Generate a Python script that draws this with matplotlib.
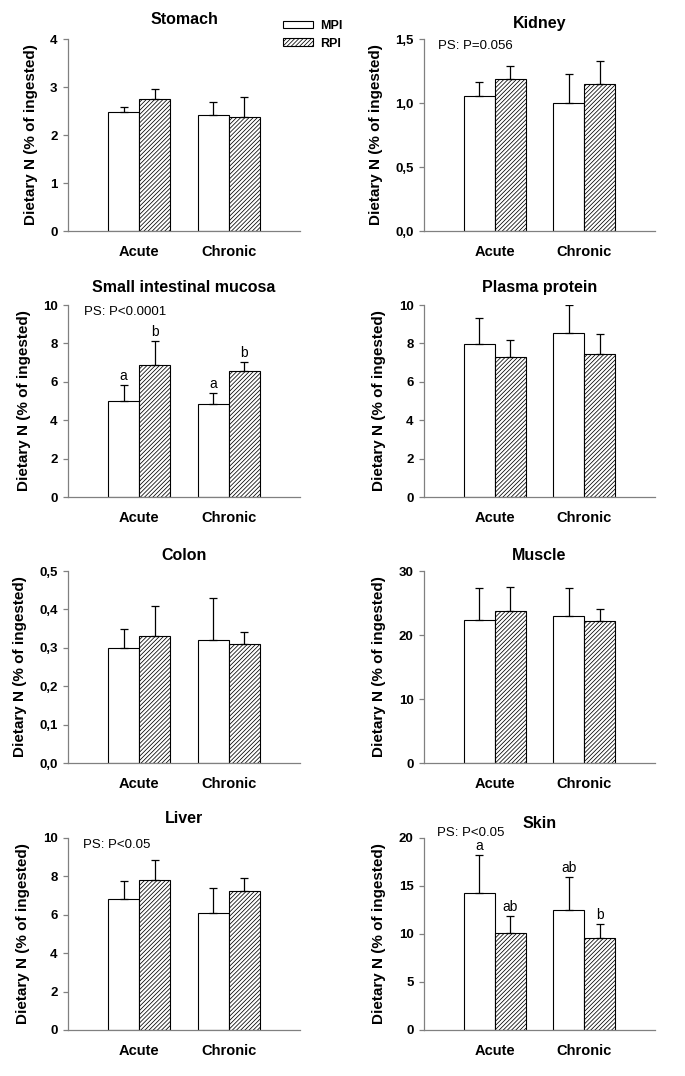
import matplotlib
matplotlib.use("Agg")
import matplotlib.pyplot as plt
from matplotlib.patches import Patch

plt.rcParams['font.family'] = ['Liberation Sans', 'DejaVu Sans']
plt.rcParams['hatch.linewidth'] = 0.55

groups = ["Acute", "Chronic"]
series = ["MPI", "RPI"]

titles = ["Stomach", "Kidney", "Small intestinal mucosa", "Plasma protein",
          "Colon", "Muscle", "Liver", "Skin"]

# means [MPI, RPI] per group (Acute, Chronic)
stomach_mpi = [2.47, 2.42]; stomach_rpi = [2.74, 2.37]
stomach_mpi_err = [0.11, 0.27]; stomach_rpi_err = [0.22, 0.42]

kidney_mpi = [1.055, 1.00]; kidney_rpi = [1.19, 1.15]
kidney_mpi_err = [0.11, 0.23]; kidney_rpi_err = [0.10, 0.18]

sim_mpi = [5.0, 4.83]; sim_rpi = [6.88, 6.55]
sim_mpi_err = [0.84, 0.57]; sim_rpi_err = [1.22, 0.50]

plasma_mpi = [7.97, 8.54]; plasma_rpi = [7.30, 7.45]
plasma_mpi_err = [1.34, 1.44]; plasma_rpi_err = [0.88, 1.04]

colon_mpi = [0.30, 0.32]; colon_rpi = [0.33, 0.31]
colon_mpi_err = [0.05, 0.11]; colon_rpi_err = [0.08, 0.03]

muscle_mpi = [22.4, 22.9]; muscle_rpi = [23.8, 22.2]
muscle_mpi_err = [4.9, 4.4]; muscle_rpi_err = [3.7, 1.8]

liver_mpi = [6.83, 6.08]; liver_rpi = [7.82, 7.23]
liver_mpi_err = [0.93, 1.32]; liver_rpi_err = [1.04, 0.67]

skin_mpi = [14.3, 12.5]; skin_rpi = [10.14, 9.62]
skin_mpi_err = [3.95, 3.43]; skin_rpi_err = [1.73, 1.45]

# y ticks and labels
stomach_ticks = [0, 1, 2, 3, 4]; stomach_labels = ["0", "1", "2", "3", "4"]
kidney_ticks = [0, 0.5, 1.0, 1.5]; kidney_labels = ["0,0", "0,5", "1,0", "1,5"]
sim_ticks = [0, 2, 4, 6, 8, 10]; sim_labels = ["0", "2", "4", "6", "8", "10"]
plasma_ticks = [0, 2, 4, 6, 8, 10]; plasma_labels = ["0", "2", "4", "6", "8", "10"]
colon_ticks = [0, 0.1, 0.2, 0.3, 0.4, 0.5]; colon_labels = ["0,0", "0,1", "0,2", "0,3", "0,4", "0,5"]
muscle_ticks = [0, 10, 20, 30]; muscle_labels = ["0", "10", "20", "30"]
liver_ticks = [0, 2, 4, 6, 8, 10]; liver_labels = ["0", "2", "4", "6", "8", "10"]
skin_ticks = [0, 5, 10, 15, 20]; skin_labels = ["0", "5", "10", "15", "20"]

# annotations
ps_texts = [None, "PS: P=0.056", "PS: P<0.0001", None, None, None, "PS: P<0.05", "PS: P<0.05"]
sim_letters_mpi = ["a", "a"]; sim_letters_rpi = ["b", "b"]
skin_letters_mpi = ["a", "ab"]; skin_letters_rpi = ["ab", "b"]

panels = [
    (stomach_mpi, stomach_rpi, stomach_mpi_err, stomach_rpi_err, stomach_ticks, stomach_labels, None, None),
    (kidney_mpi, kidney_rpi, kidney_mpi_err, kidney_rpi_err, kidney_ticks, kidney_labels, None, None),
    (sim_mpi, sim_rpi, sim_mpi_err, sim_rpi_err, sim_ticks, sim_labels, sim_letters_mpi, sim_letters_rpi),
    (plasma_mpi, plasma_rpi, plasma_mpi_err, plasma_rpi_err, plasma_ticks, plasma_labels, None, None),
    (colon_mpi, colon_rpi, colon_mpi_err, colon_rpi_err, colon_ticks, colon_labels, None, None),
    (muscle_mpi, muscle_rpi, muscle_mpi_err, muscle_rpi_err, muscle_ticks, muscle_labels, None, None),
    (liver_mpi, liver_rpi, liver_mpi_err, liver_rpi_err, liver_ticks, liver_labels, None, None),
    (skin_mpi, skin_rpi, skin_mpi_err, skin_rpi_err, skin_ticks, skin_labels, skin_letters_mpi, skin_letters_rpi),
]

W, H = 685, 1076
fig = plt.figure(figsize=(W / 100, H / 100), dpi=100)

col_left = [68, 424]
col_width = [232, 231]
row_bottom = [231, 497, 763, 1030]
ax_h = 192
title_off = [1.10, 1.083, 1.093, 1.093, 1.083, 1.083, 1.10, 1.073]
ylabel_x = [-0.159, -0.207, -0.189, -0.194, -0.206, -0.194, -0.193, -0.194]
ps_pos = [None, (0.06, 0.963), (0.069, 0.964), None, None, None, (0.064, 0.963), (0.056, 1.026)]

spine_col = '#808080'
bw = 0.344
xc = [0, 1]
hatch = '////////'

for i, (mpi, rpi, me, re_, ticks, tlabels, lm, lr) in enumerate(panels):
    r, c = divmod(i, 2)
    ax = fig.add_axes([col_left[c] / W, (H - row_bottom[r]) / H, col_width[c] / W, ax_h / H])
    xm = [x - bw / 2 for x in xc]
    xr = [x + bw / 2 for x in xc]
    ax.bar(xm, mpi, width=bw, color='white', edgecolor='black', linewidth=0.8, zorder=2)
    ax.bar(xr, rpi, width=bw, color='white', edgecolor='black', hatch=hatch, linewidth=0.8, zorder=2)
    ax.errorbar(xm, mpi, yerr=[[0, 0], me], fmt='none', ecolor='black', elinewidth=0.9,
                capsize=3, capthick=0.9, zorder=3)
    ax.errorbar(xr, rpi, yerr=[[0, 0], re_], fmt='none', ecolor='black', elinewidth=0.9,
                capsize=3, capthick=0.9, zorder=3)
    ax.set_xlim(-0.79, 1.79)
    ax.set_ylim(ticks[0], ticks[-1])
    ax.set_yticks(ticks)
    ax.set_yticklabels(tlabels, fontsize=9.5, fontweight='bold')
    ax.set_xticks(xc)
    ax.set_xticklabels(groups, fontsize=10.5, fontweight='bold')
    ax.tick_params(axis='x', length=0, pad=10)
    ax.tick_params(axis='y', length=3.5, width=0.9, color=spine_col, pad=4)
    for s in ['top', 'right']:
        ax.spines[s].set_visible(False)
    for s in ['left', 'bottom']:
        ax.spines[s].set_color(spine_col)
        ax.spines[s].set_linewidth(0.9)
    ax.set_ylabel("Dietary N (% of ingested)", fontsize=11, fontweight='bold', va='center')
    ax.yaxis.set_label_coords(ylabel_x[i], 0.5)
    ax.text(0.5, title_off[i], titles[i], transform=ax.transAxes, ha='center', va='center',
            fontsize=11.5, fontweight='bold')
    if ps_texts[i]:
        ax.text(ps_pos[i][0], ps_pos[i][1], ps_texts[i], transform=ax.transAxes,
                ha='left', va='center', fontsize=9.5)
    if lm:
        for x, v, e, t in zip(xm, mpi, me, lm):
            ax.annotate(t, (x, v + e), xytext=(0, 1.5), textcoords='offset points',
                        ha='center', va='bottom', fontsize=10)
        for x, v, e, t in zip(xr, rpi, re_, lr):
            ax.annotate(t, (x, v + e), xytext=(0, 1.5), textcoords='offset points',
                        ha='center', va='bottom', fontsize=10)

handles = [Patch(facecolor='white', edgecolor='black', linewidth=0.8, label=series[0]),
           Patch(facecolor='white', edgecolor='black', hatch=hatch, linewidth=0.8, label=series[1])]
fig.legend(handles=handles, loc='upper left', bbox_to_anchor=(283 / W, 1 - 20 / H),
           frameon=False, borderpad=0, borderaxespad=0, handlelength=2.4, handleheight=0.55,
           handletextpad=0.55, labelspacing=0.45, prop={'weight': 'bold', 'size': 9})

fig.savefig("out.png", dpi=100)
